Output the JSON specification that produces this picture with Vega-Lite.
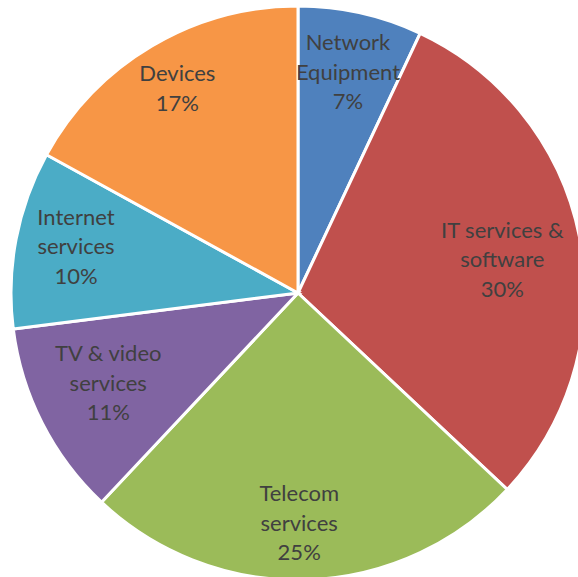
{
  "$schema": "https://vega.github.io/schema/vega-lite/v6.json",
  "width": 596,
  "height": 586,
  "padding": 0,
  "autosize": {"type": "none"},
  "background": "white",
  "config": {"view": {"stroke": null}, "text": {"lineBreak": "\n", "lineHeight": 29.5, "fontSize": 22, "font": "Lato", "color": "#404040", "align": "center", "baseline": "middle"}},
  "data": {
    "values": [
      {"i": 1, "category": "Network\nEquipment", "value": 7},
      {"i": 2, "category": "IT services &\nsoftware", "value": 30},
      {"i": 3, "category": "Telecom\nservices", "value": 25},
      {"i": 4, "category": "TV & video\nservices", "value": 11},
      {"i": 5, "category": "Internet\nservices", "value": 10},
      {"i": 6, "category": "Devices", "value": 17}
    ]
  },
  "transform": [
    {"calculate": "datum.category + '\\n' + datum.value + '%'", "as": "label"}
  ],
  "encoding": {
    "theta": {"field": "value", "type": "quantitative", "stack": true},
    "order": {"field": "i", "type": "quantitative"}
  },
  "layer": [
    {
      "mark": {"type": "arc", "outerRadius": 287, "stroke": "white", "strokeWidth": 3},
      "encoding": {
        "color": {
          "field": "category",
          "type": "nominal",
          "legend": null,
          "scale": {
            "domain": ["Network\nEquipment", "IT services &\nsoftware", "Telecom\nservices", "TV & video\nservices", "Internet\nservices", "Devices"],
            "range": ["#4F81BD", "#C0504D", "#9BBB59", "#8064A2", "#4BACC6", "#F79646"]
          }
        }
      }
    },
    {
      "mark": {"type": "text", "radius": 229, "dy": -26.5},
      "encoding": {"text": {"condition": {"test": "datum.i == 1", "field": "label", "type": "nominal"}, "value": ""}}
    },
    {
      "mark": {"type": "text", "radius": 208, "dy": -23.5},
      "encoding": {"text": {"condition": {"test": "datum.i == 2", "field": "label", "type": "nominal"}, "value": ""}}
    },
    {
      "mark": {"type": "text", "radius": 229, "dy": -27.5, "dx": -6},
      "encoding": {"text": {"condition": {"test": "datum.i == 3", "field": "label", "type": "nominal"}, "value": ""}}
    },
    {
      "mark": {"type": "text", "radius": 213, "dy": -35.5},
      "encoding": {"text": {"condition": {"test": "datum.i == 4", "field": "label", "type": "nominal"}, "value": ""}}
    },
    {
      "mark": {"type": "text", "radius": 226, "dy": -33},
      "encoding": {"text": {"condition": {"test": "datum.i == 5", "field": "label", "type": "nominal"}, "value": ""}}
    },
    {
      "mark": {"type": "text", "radius": 237, "dy": -14.75},
      "encoding": {"text": {"condition": {"test": "datum.i == 6", "field": "label", "type": "nominal"}, "value": ""}}
    }
  ]
}
